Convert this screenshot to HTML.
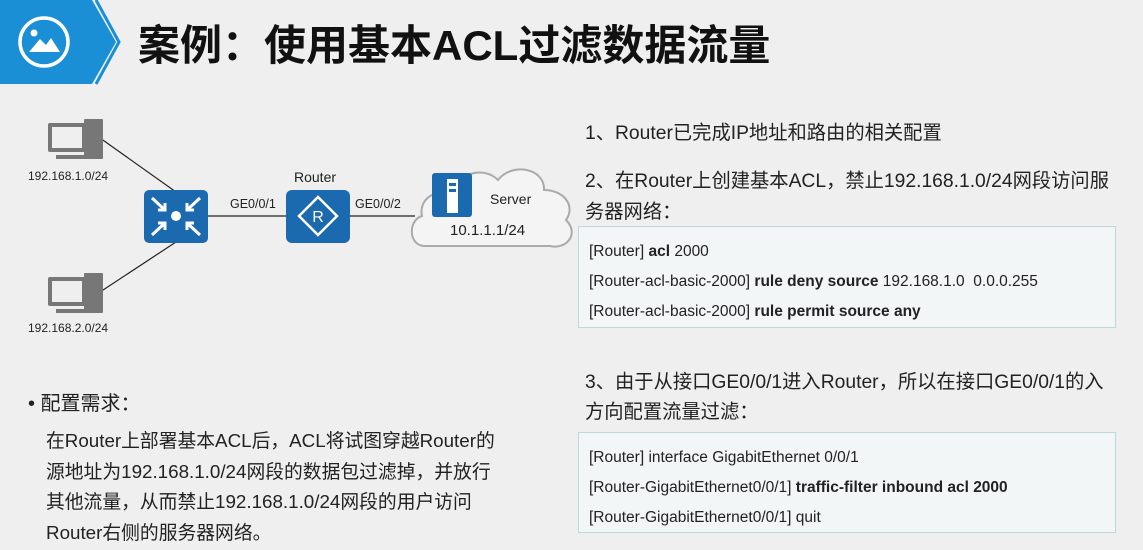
<!DOCTYPE html>
<html><head><meta charset="utf-8"><style>
body{margin:0;width:1143px;height:550px;background:#efefef;position:relative;overflow:hidden;font-family:"Liberation Sans","Noto Sans CJK SC",sans-serif;color:#222}
.t{position:absolute;white-space:nowrap}
.box{position:absolute;left:578px;width:536px;border:1px solid #bcd8d8;background:#f3f6f6}
.box div{position:absolute;left:10px;font-size:15.5px;white-space:nowrap}
b{font-weight:bold}
</style></head><body>
<svg width="1143" height="550" style="position:absolute;left:0;top:0">
<polygon points="0,0 92,0 116,42 92,84 0,84" fill="#1a8fd6"/>
<polyline points="96,0 119,42 96,84" fill="none" stroke="#1a8fd6" stroke-width="3"/>
<circle cx="44" cy="42" r="24" fill="none" stroke="#fff" stroke-width="3.5"/>
<circle cx="34" cy="33" r="3.5" fill="#fff"/>
<polygon points="29,52 40,39 46,45 51,38 60,52" fill="#fff"/>
<line x1="100" y1="138" x2="176" y2="192" stroke="#222" stroke-width="1.2"/>
<line x1="100" y1="292" x2="176" y2="242" stroke="#222" stroke-width="1.2"/>
<line x1="208" y1="216" x2="287" y2="216" stroke="#222" stroke-width="1.2"/>
<line x1="350" y1="216" x2="415" y2="216" stroke="#222" stroke-width="1.2"/>
<g fill="#777"><rect x="84" y="119" width="19" height="40" rx="1"/><rect x="48" y="123" width="38" height="29" rx="2"/><rect x="52" y="127" width="30" height="21" fill="#efefef"/><rect x="56" y="155" width="30" height="4"/></g>
<g fill="#777"><rect x="84" y="273" width="19" height="40" rx="1"/><rect x="48" y="277" width="38" height="29" rx="2"/><rect x="52" y="281" width="30" height="21" fill="#efefef"/><rect x="56" y="309" width="30" height="4"/></g>
<rect x="144" y="190" width="64" height="53" rx="5" fill="#1b69ae"/>
<circle cx="176" cy="216" r="5" fill="#fff"/>
<g stroke="#fff" stroke-width="3" fill="none"><path d="M152,198 L165,210 M158,210 h7 v-7"/><path d="M200,198 L187,210 M194,210 h-7 v-7"/><path d="M152,235 L165,223 M158,223 h7 v7"/><path d="M200,235 L187,223 M194,223 h-7 v7"/></g>
<rect x="286" y="190" width="64" height="53" rx="6" fill="#1b69ae"/>
<polygon points="318,197 337,216 318,235 299,216" fill="none" stroke="#fff" stroke-width="2.5"/>
<text x="318" y="222" font-size="16" fill="#fff" text-anchor="middle" font-family="Liberation Sans">R</text>
<path d="M425,246 C408,246 408,220 422,216 C418,198 438,188 452,194 C458,172 484,166 498,180 C512,162 545,168 544,190 C564,190 576,206 566,220 C580,234 566,250 550,246 Z" fill="#f4f4f4" stroke="#aaa" stroke-width="2"/>
<rect x="432" y="173" width="40" height="44" rx="3" fill="#1b69ae"/>
<rect x="447" y="179" width="11" height="34" fill="#fff"/>
<rect x="449" y="183" width="7" height="3" fill="#1b69ae"/><rect x="449" y="189" width="7" height="3" fill="#1b69ae"/>
</svg>
<div class="t" style="left:138px;top:12px;font-size:42px;font-weight:bold;color:#111">案例：使用基本ACL过滤数据流量</div>
<div class="t" style="left:28px;top:169px;font-size:12px">192.168.1.0/24</div>
<div class="t" style="left:28px;top:321px;font-size:12px">192.168.2.0/24</div>
<div class="t" style="left:294px;top:169px;font-size:14px">Router</div>
<div class="t" style="left:230px;top:197px;font-size:12.5px">GE0/0/1</div>
<div class="t" style="left:355px;top:197px;font-size:12.5px">GE0/0/2</div>
<div class="t" style="left:490px;top:191px;font-size:14px">Server</div>
<div class="t" style="left:450px;top:222px;font-size:15px">10.1.1.1/24</div>
<div class="t" style="left:28px;top:387px;font-size:20px">• 配置需求：</div>
<div class="t" style="left:46px;top:426px;font-size:18.8px;line-height:30.5px">在Router上部署基本ACL后，ACL将试图穿越Router的<br>源地址为192.168.1.0/24网段的数据包过滤掉，并放行<br>其他流量，从而禁止192.168.1.0/24网段的用户访问<br>Router右侧的服务器网络。</div>
<div class="t" style="left:585px;top:117px;font-size:19.3px">1、Router已完成IP地址和路由的相关配置</div>
<div class="t" style="left:585px;top:166px;font-size:19.3px;line-height:31px">2、在Router上创建基本ACL，禁止192.168.1.0/24网段访问服<br>务器网络：</div>
<div class="box" style="top:226px;height:100px">
<div style="top:16px">[Router] <b>acl</b> 2000</div>
<div style="top:46px">[Router-acl-basic-2000] <b>rule deny source</b> 192.168.1.0&nbsp; 0.0.0.255</div>
<div style="top:76px">[Router-acl-basic-2000] <b>rule permit source any</b></div>
</div>
<div class="t" style="left:585px;top:368px;font-size:19.3px;line-height:30px">3、由于从接口GE0/0/1进入Router，所以在接口GE0/0/1的入<br>方向配置流量过滤：</div>
<div class="box" style="top:432px;height:99px">
<div style="top:16px">[Router] interface GigabitEthernet 0/0/1</div>
<div style="top:46px">[Router-GigabitEthernet0/0/1] <b>traffic-filter inbound acl 2000</b></div>
<div style="top:76px">[Router-GigabitEthernet0/0/1] quit</div>
</div>
</body></html>
